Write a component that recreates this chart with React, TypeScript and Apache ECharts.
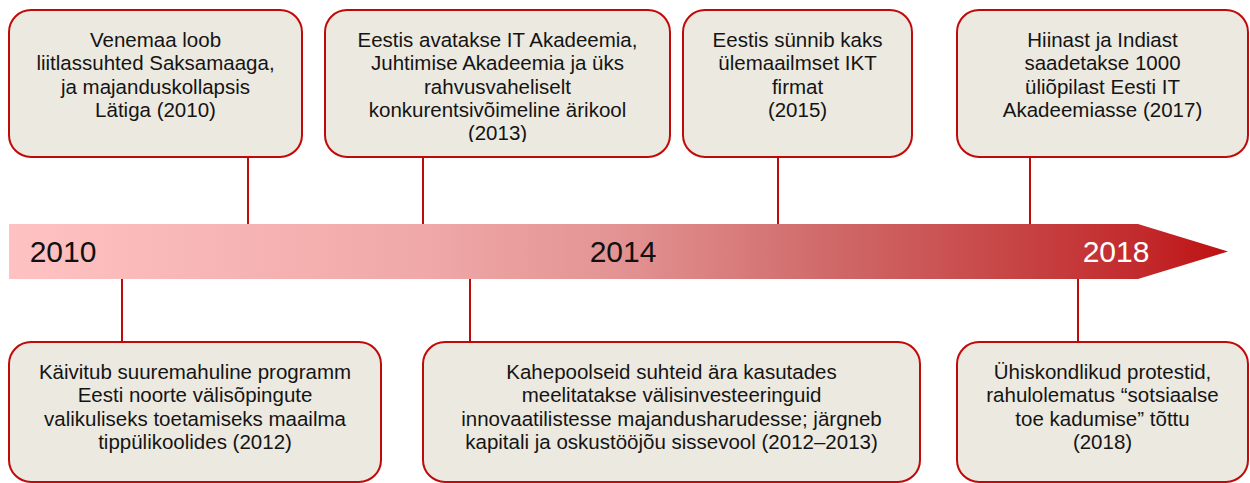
import React, { useEffect, useRef } from "react";
import * as echarts from "echarts";

// ---- Data ----
const yearLabels = ["2010", "2014", "2018"];
const topEvents = [
  "Venemaa loob\nliitlassuhted Saksamaaga,\nja majanduskollapsis\nLätiga (2010)",
  "Eestis avatakse IT Akadeemia,\nJuhtimise Akadeemia ja üks\nrahvusvaheliselt\nkonkurentsivõimeline ärikool\n(2013)",
  "Eestis sünnib kaks\nülemaailmset IKT\nfirmat\n(2015)",
  "Hiinast ja Indiast\nsaadetakse 1000\nüliõpilast Eesti IT\nAkadeemiasse (2017)",
];
const bottomEvents = [
  "Käivitub suuremahuline programm\nEesti noorte välisõpingute\nvalikuliseks toetamiseks maailma\ntippülikoolides (2012)",
  "Kahepoolseid suhteid ära kasutades\nmeelitatakse välisinvesteeringuid\ninnovaatilistesse majandusharudesse; järgneb\nkapitali ja oskustööjõu sissevool (2012–2013)",
  "Ühiskondlikud protestid,\nrahulolematus “sotsiaalse\ntoe kadumise” tõttu\n(2018)",
];

// ---- Layout (positions only) ----
const topBoxes = [
  { x1: 9, x2: 302, cx: 248 },
  { x1: 325, x2: 670, cx: 423 },
  { x1: 683, x2: 912, cx: 778 },
  { x1: 957, x2: 1248, cx: 1030 },
];
const bottomBoxes = [
  { x1: 9, x2: 381, cx: 122 },
  { x1: 423, x2: 920, cx: 470 },
  { x1: 957, x2: 1248, cx: 1078 },
];
const yearLabelX = [63, 623, 1116];
const yearLabelColor = ["#111111", "#111111", "#ffffff"];

const TOP_Y1 = 10;
const TOP_Y2 = 157;
const BOT_Y1 = 342;
const BOT_Y2 = 482;
const BAND_Y1 = 224;
const BAND_Y2 = 279;
const BAND_X1 = 9;
const BAND_X2 = 1138;
const TIP_X = 1228;

const BORDER = "#C00A0A";
const FILL = "#ECE9E0";
const FONT = "'Liberation Sans', Arial, Helvetica, sans-serif";

export default function App() {
  const ref = useRef<HTMLDivElement>(null);

  useEffect(() => {
    document.body.style.margin = "0";
    if (!ref.current) return;
    const chart = echarts.init(ref.current, null, { renderer: "svg" });

    const elements: any[] = [];

    const box = (x1: number, y1: number, x2: number, y2: number, text: string) => {
      elements.push({
        type: "rect",
        shape: { x: x1, y: y1, width: x2 - x1, height: y2 - y1, r: 22 },
        style: { fill: FILL, stroke: BORDER, lineWidth: 2 },
      });
      elements.push({
        type: "text",
        x: (x1 + x2) / 2,
        y: y1 + 18,
        style: {
          text,
          fill: "#141414",
          fontSize: 20.5,
          fontFamily: FONT,
          align: "center",
          verticalAlign: "top",
          lineHeight: 23.3,
        },
      });
    };

    topBoxes.forEach((b, i) => {
      box(b.x1, TOP_Y1, b.x2, TOP_Y2, topEvents[i]);
      elements.push({
        type: "line",
        shape: { x1: b.cx, y1: TOP_Y2, x2: b.cx, y2: BAND_Y1 },
        style: { stroke: BORDER, lineWidth: 2 },
      });
    });
    // clip overflow text of box 2 (text is cut at the bottom in the original)
    elements.push({
      type: "rect",
      shape: { x: topBoxes[1].x1 + 24, y: 142, width: topBoxes[1].x2 - topBoxes[1].x1 - 48, height: 13.5 },
      style: { fill: FILL },
    });

    bottomBoxes.forEach((b, i) => {
      box(b.x1, BOT_Y1, b.x2, BOT_Y2, bottomEvents[i]);
      elements.push({
        type: "line",
        shape: { x1: b.cx, y1: BAND_Y2, x2: b.cx, y2: BOT_Y1 },
        style: { stroke: BORDER, lineWidth: 2 },
      });
    });

    const midY = (BAND_Y1 + BAND_Y2) / 2;
    elements.push({
      type: "polygon",
      shape: {
        points: [
          [BAND_X1, BAND_Y1],
          [BAND_X2, BAND_Y1],
          [TIP_X, midY],
          [BAND_X2, BAND_Y2],
          [BAND_X1, BAND_Y2],
        ],
      },
      style: {
        fill: new echarts.graphic.LinearGradient(0, 0, 1, 0, [
          { offset: 0, color: "#FFC2C2" },
          { offset: 0.34, color: "#F0A8A8" },
          { offset: 0.5, color: "#E39393" },
          { offset: 0.67, color: "#D06A6A" },
          { offset: 0.81, color: "#C84848" },
          { offset: 0.93, color: "#C22A2C" },
          { offset: 1, color: "#BE1010" },
        ]),
      },
    });

    yearLabels.forEach((t, i) => {
      elements.push({
        type: "text",
        x: yearLabelX[i],
        y: midY,
        style: {
          text: t,
          fill: yearLabelColor[i],
          fontSize: 30,
          fontFamily: FONT,
          align: "center",
          verticalAlign: "middle",
        },
      });
    });

    chart.setOption({
      animation: false,
      backgroundColor: "#ffffff",
      graphic: { elements },
    });

    return () => chart.dispose();
  }, []);

  return <div ref={ref} style={{ width: 1250, height: 483 }} />;
}
